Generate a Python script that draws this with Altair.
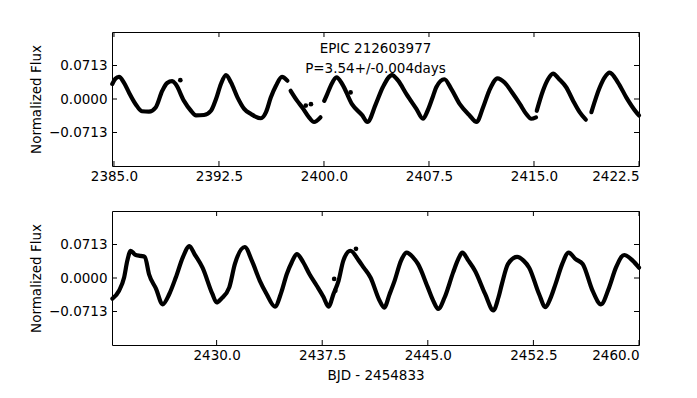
import altair as alt
import pandas as pd

# ---- top panel: light-curve samples ----
top_t = [2384.88, 2385.10, 2385.36, 2385.71, 2386.07, 2386.55, 2387.00, 2387.50, 2387.98, 2388.45,
         2388.80, 2389.16, 2389.40, 2390.00, 2390.50, 2390.86, 2391.43, 2391.93, 2392.29, 2392.64,
         2393.00, 2393.36, 2393.83, 2394.30, 2394.79, 2395.50, 2395.86, 2396.20, 2396.57, 2397.00,
         2397.38,
         2397.62, 2398.09, 2398.45, 2398.93, 2399.29, 2399.75,
         2400.02, 2400.24, 2400.48, 2400.90, 2401.30, 2402.00, 2402.74, 2403.10, 2403.70, 2404.20,
         2404.86, 2405.30, 2405.88, 2406.60, 2407.07, 2407.40, 2407.80, 2408.02, 2408.60, 2409.10,
         2409.70, 2410.40, 2410.90, 2411.36, 2411.80, 2412.40, 2412.90, 2413.50, 2414.00, 2414.45,
         2414.80, 2415.14,
         2415.20, 2415.64, 2416.00, 2416.36, 2416.80, 2417.30, 2417.80, 2418.26, 2418.70,
         2419.10, 2419.70, 2420.05, 2420.40, 2421.00, 2421.60, 2422.30, 2422.50]
top_f = [0.032, 0.043, 0.047, 0.035, 0.014, -0.011, -0.026, -0.027, -0.018, 0.0175,
         0.034, 0.038, 0.032, -0.004, -0.025, -0.035, -0.034, -0.025, 0.000, 0.032,
         0.051, 0.035, 0.003, -0.021, -0.032, -0.041, -0.028, 0.003, 0.028, 0.047,
         0.039,
         0.0175, -0.004, -0.018, -0.039, -0.049, -0.039,
         -0.004, 0.011, 0.028, 0.046, 0.032, -0.011, -0.035, -0.049, -0.011, 0.025,
         0.051, 0.039, 0.011, -0.021, -0.042, -0.025, 0.007, 0.025, 0.042, 0.021,
         -0.011, -0.035, -0.049, -0.018, 0.0175, 0.044, 0.035, 0.011, -0.011, -0.032,
         -0.042, -0.039,
         -0.025, 0.0175, 0.042, 0.054, 0.042, 0.025, -0.004, -0.028, -0.044,
         -0.028, 0.025, 0.046, 0.056, 0.035, 0.003, -0.028, -0.035]
top_seg = [0] * 31 + [1] * 6 + [2] * 32 + [3] * 9 + [4] * 8
top_out_t = [2389.74, 2398.70, 2399.07, 2401.90]
top_out_f = [0.040, -0.014, -0.011, 0.014]

# ---- bottom panel ----
bot_t = [2422.60, 2423.07, 2423.43, 2423.66, 2423.90, 2424.20, 2424.60, 2424.90, 2425.20, 2425.70,
         2426.16, 2426.64, 2427.10, 2427.60, 2428.07, 2428.43, 2429.00, 2429.70, 2430.00, 2430.33,
         2430.90, 2431.30, 2432.00, 2432.50, 2433.07, 2433.55, 2434.14, 2434.60, 2434.98, 2435.33,
         2435.70, 2436.16, 2436.60, 2437.10, 2437.60, 2437.95, 2438.30, 2438.66, 2439.00, 2439.50,
         2440.10, 2440.45, 2440.93, 2441.57, 2441.90, 2442.29, 2442.64, 2443.10, 2443.50, 2443.95,
         2444.30, 2445.00, 2445.38, 2445.74, 2446.20, 2446.80, 2447.16, 2447.45, 2447.88, 2448.36,
         2449.07, 2449.66, 2450.02, 2450.26, 2450.70, 2451.34, 2451.80, 2452.20, 2452.90, 2453.36,
         2453.70, 2454.07, 2454.55, 2455.00, 2455.50, 2456.00, 2456.70, 2457.30, 2457.88, 2458.36,
         2458.95, 2459.55, 2460.00]
bot_f = [-0.044, -0.027, 0.001, 0.037, 0.058, 0.050, 0.047, 0.045, 0.008, -0.023,
         -0.056, -0.034, 0.001, 0.044, 0.068, 0.051, 0.022, -0.034, -0.052, -0.044,
         -0.020, 0.030, 0.066, 0.037, -0.006, -0.034, -0.061, -0.030, 0.008, 0.033,
         0.051, 0.033, 0.008, -0.016, -0.041, -0.061, -0.034, -0.006, 0.037, 0.058,
         0.037, 0.022, 0.001, -0.048, -0.063, -0.034, -0.006, 0.037, 0.054, 0.044,
         0.030, -0.020, -0.048, -0.066, -0.041, 0.012, 0.040, 0.054, 0.037, 0.015,
         -0.034, -0.069, -0.041, -0.013, 0.030, 0.045, 0.037, 0.022, -0.034, -0.062,
         -0.044, -0.013, 0.030, 0.054, 0.040, 0.030, -0.027, -0.056, -0.020, 0.022,
         0.049, 0.037, 0.022]
bot_seg = [0] * len(bot_t)
bot_out_t = [2438.35, 2439.90, 2438.43]
bot_out_f = [-0.002, 0.062, -0.027]

top_xticks = [2385.0, 2392.5, 2400.0, 2407.5, 2415.0, 2422.5]
bot_xticks = [2430.0, 2437.5, 2445.0, 2452.5, 2460.0]
yticks = [-0.0713, 0.0, 0.0713]
top_xdomain = [2384.86, 2422.5]
bot_xdomain = [2422.57, 2460.0]
ydomain = [-0.1426, 0.1426]

annot_lines = ["EPIC 212603977", "P=3.54+/-0.004days"]

W, H = 527, 134
FONT = "DejaVu Sans"
FS = 13.5
TICK = 5


def panel(t, f, seg, ot, of, xdom, xticks, xtitle, annotate):
    df = pd.DataFrame({"t": t, "f": f, "seg": seg})
    dfo = pd.DataFrame({"t": ot, "f": of})
    xscale = alt.Scale(domain=xdom, nice=False, zero=False)
    yscale = alt.Scale(domain=ydomain, nice=False, zero=False)
    xaxis_kw = dict(values=xticks, format=".1f", ticks=False, domain=False, grid=False,
                    labelPadding=3, labelFontSize=FS, labelColor="black", labelFont=FONT)
    if xtitle:
        xaxis_kw.update(title=xtitle, titleFontSize=FS, titleFontWeight="normal",
                        titleColor="black", titleFont=FONT, titlePadding=7)
    else:
        xaxis_kw.update(title=None)
    x = alt.X("t:Q", scale=xscale, axis=alt.Axis(**xaxis_kw))
    y = alt.Y("f:Q", scale=yscale,
              axis=alt.Axis(values=yticks, ticks=False, domain=False, grid=False,
                            labelExpr="replace(format(datum.value, '.4f'), '-', '\u2212')",
                            labelPadding=5, labelFontSize=FS, labelColor="black", labelFont=FONT,
                            title="Normalized Flux", titleFontSize=FS, titleFontWeight="normal",
                            titleColor="black", titleFont=FONT, titlePadding=5))
    line = alt.Chart(df).mark_line(color="black", strokeWidth=4.2, strokeCap="round",
                                   strokeJoin="round", interpolate="monotone").encode(
        x=x, y=y, detail="seg:N")
    pts = alt.Chart(dfo).mark_circle(color="black", size=22, opacity=1).encode(x=x, y=y)

    dxt = pd.DataFrame({"t": xticks})
    dyt = pd.DataFrame({"f": yticks})
    tx_top = alt.Chart(dxt).mark_rule(color="black", strokeWidth=1).encode(
        x=x, y=alt.value(0), y2=alt.value(TICK))
    tx_bot = alt.Chart(dxt).mark_rule(color="black", strokeWidth=1).encode(
        x=x, y=alt.value(H), y2=alt.value(H - TICK))
    ty_l = alt.Chart(dyt).mark_rule(color="black", strokeWidth=1).encode(
        y=y, x=alt.value(0), x2=alt.value(TICK))
    ty_r = alt.Chart(dyt).mark_rule(color="black", strokeWidth=1).encode(
        y=y, x=alt.value(W), x2=alt.value(W - TICK))
    layers = [line, pts, tx_top, tx_bot, ty_l, ty_r]
    if annotate:
        txt = alt.Chart(pd.DataFrame({"k": [0]})).mark_text(
            text=annot_lines, font=FONT, fontSize=FS, color="black", align="center",
            baseline="alphabetic", lineHeight=20).encode(
            x=alt.value(W / 2), y=alt.value(20.7))
        layers.append(txt)
    return alt.layer(*layers).properties(width=W, height=H)


top = panel(top_t, top_f, top_seg, top_out_t, top_out_f, top_xdomain, top_xticks, None, True)
bot = panel(bot_t, bot_f, bot_seg, bot_out_t, bot_out_f, bot_xdomain, bot_xticks, "BJD - 2454833", False)

chart = alt.vconcat(top, bot, spacing=27).properties(
    padding={"left": 20, "top": 23, "right": 5, "bottom": 5},
    background="white",
).configure_view(stroke="black", strokeWidth=1)

chart.save("out.html", embed_options={"renderer": "svg", "actions": False})
